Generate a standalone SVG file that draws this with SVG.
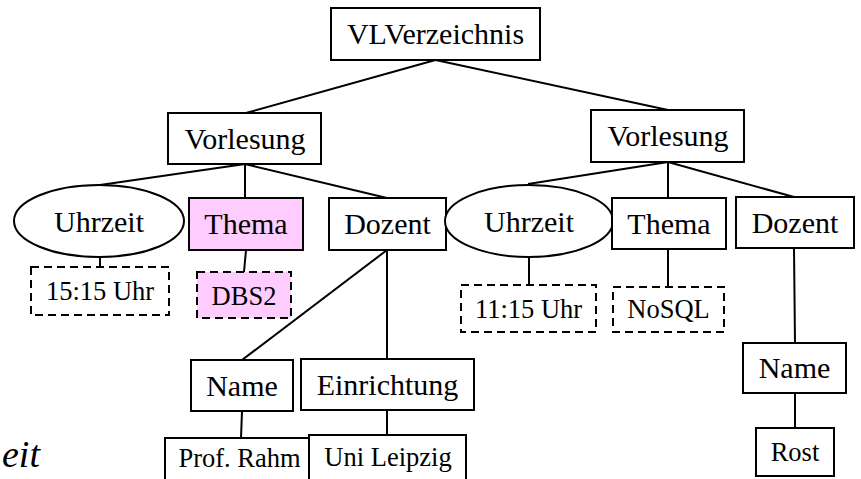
<svg xmlns="http://www.w3.org/2000/svg" width="861" height="479" viewBox="0 0 861 479" font-family="'Liberation Serif', Tinos, 'Times New Roman', 'DejaVu Serif', serif">
<style>
  .box { fill: #ffffff; stroke: #000000; stroke-width: 2; }
  .pink { fill: #ffccff; }
  .dash { stroke-dasharray: 8 5; }
  text { font-family: 'Liberation Serif', Tinos, 'Times New Roman', 'DejaVu Serif', serif; fill: #000000; }
  .lbl { font-size: 30px; text-anchor: middle; }
  .val { font-size: 26.5px; text-anchor: middle; }
  .conn line { stroke: #000000; stroke-width: 2; }
</style>
<rect width="861" height="479" fill="#ffffff"/>
<text x="2" y="467" font-style="italic" font-size="38">eit</text>
<g id="connectors" class="conn">
  <line x1="435.5" y1="60" x2="246" y2="113"/>
  <line x1="435.5" y1="60" x2="668" y2="110"/>
  <line x1="245" y1="164" x2="100" y2="185"/>
  <line x1="245" y1="164" x2="245" y2="198"/>
  <line x1="245" y1="164" x2="387" y2="198"/>
  <line x1="668" y1="162" x2="528" y2="184"/>
  <line x1="668" y1="162" x2="668" y2="198"/>
  <line x1="668" y1="162" x2="794" y2="197"/>
  <line x1="100" y1="257" x2="100" y2="267"/>
  <line x1="246" y1="250" x2="244" y2="272"/>
  <line x1="387" y1="250" x2="242" y2="360"/>
  <line x1="387" y1="250" x2="387" y2="359"/>
  <line x1="242" y1="411" x2="241" y2="438"/>
  <line x1="387" y1="410" x2="387" y2="435"/>
  <line x1="529" y1="257" x2="529" y2="285"/>
  <line x1="668" y1="249" x2="668" y2="287"/>
  <line x1="794" y1="248" x2="795" y2="343"/>
  <line x1="795" y1="393" x2="795" y2="428"/>
</g>
<g id="vlverzeichnis"><rect class="box" x="331" y="8" width="209" height="52"/><text class="lbl" x="435.5" y="44">VLVerzeichnis</text></g>
<g id="vorlesung1"><rect class="box" x="168" y="113" width="153" height="51"/><text class="lbl" x="245" y="148.5">Vorlesung</text></g>
<g id="vorlesung2"><rect class="box" x="591" y="110" width="153" height="52"/><text class="lbl" x="668" y="146">Vorlesung</text></g>
<g id="uhrzeit1"><ellipse class="box" cx="99" cy="221" rx="85" ry="36"/><text class="lbl" x="99" y="232">Uhrzeit</text></g>
<g id="thema1"><rect class="box pink" x="189" y="198" width="114" height="52"/><text class="lbl" x="246" y="234">Thema</text></g>
<g id="dozent1"><rect class="box" x="329" y="198" width="117" height="52"/><text class="lbl" x="387.5" y="234">Dozent</text></g>
<g id="uhrzeit2"><ellipse class="box" cx="529" cy="221" rx="84" ry="36"/><text class="lbl" x="529" y="232">Uhrzeit</text></g>
<g id="thema2"><rect class="box" x="612" y="198" width="114" height="51"/><text class="lbl" x="669" y="233.5">Thema</text></g>
<g id="dozent2"><rect class="box" x="736" y="197" width="118" height="51"/><text class="lbl" x="795" y="232.5">Dozent</text></g>
<g id="uhr1515"><rect class="box dash" x="31" y="267" width="138" height="48"/><text class="val" x="100" y="300">15:15 Uhr</text></g>
<g id="dbs2"><rect class="box pink dash" x="197" y="272" width="94" height="46"/><text class="val" x="244" y="304.5">DBS2</text></g>
<g id="uhr1115"><rect class="box dash" x="461" y="285" width="135" height="47"/><text class="val" x="528.5" y="317.5">11:15 Uhr</text></g>
<g id="nosql"><rect class="box dash" x="613" y="287" width="111" height="45"/><text class="val" x="668.5" y="318">NoSQL</text></g>
<g id="name1"><rect class="box" x="191" y="360" width="102" height="51"/><text class="lbl" x="242" y="395.5">Name</text></g>
<g id="einrichtung"><rect class="box" x="301" y="359" width="173" height="51"/><text class="lbl" x="387.5" y="394.5">Einrichtung</text></g>
<g id="profrahm"><rect class="box" x="165" y="438" width="148" height="60"/><text class="val" x="239.5" y="467">Prof. Rahm</text></g>
<g id="unileipzig"><rect class="box" x="309" y="435" width="157" height="60"/><text class="val" x="388" y="466">Uni Leipzig</text></g>
<g id="name2"><rect class="box" x="743" y="343" width="103" height="50"/><text class="lbl" x="794.5" y="378">Name</text></g>
<g id="rost"><rect class="box" x="756" y="428" width="78" height="48"/><text class="val" x="795" y="461">Rost</text></g>
</svg>
